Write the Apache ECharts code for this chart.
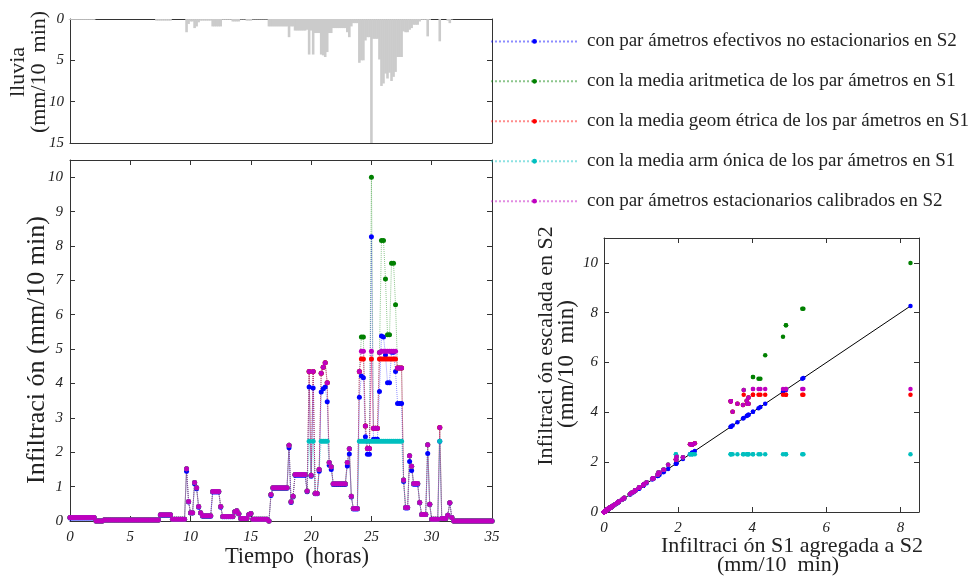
<!DOCTYPE html>
<html>
<head>
<meta charset="utf-8">
<script src="https://cdn.jsdelivr.net/npm/echarts@6/dist/echarts.min.js"></script>
<style>html,body{margin:0;padding:0;background:#fff}#c{width:977px;height:577px}</style>
</head>
<body>
<div id="c"></div>
<script>
// lluvia (mm/10 min), one value every 10 minutes from t = 0 h
const lluvia = [
 0.1,0.1,0.1,0.1,0.1,0.1,0.1,0.1,0.1,0.1,
 0.1,0.1,0.1,0,0,0,0,0,0,0,
 0,0,0,0,0,0,0,0,0,0,
 0,0,0,0,0,0,0,0,0,0,
 0,0,0,0.2,0.2,0.2,0.2,0.2,0.2,0.2,
 0.2,0,0,0,0,0,0,0,1.6,0.6,
 0.3,0.3,1.1,0.9,0.4,0.2,0.2,0.2,0.2,0.2,
 0.2,0.9,0.9,0.9,0.9,0.9,0.1,0.1,0.1,0.1,
 0.1,0.3,0.3,0.3,0.3,0.05,0.05,0.05,0.2,0.2,
 0.2,0.05,0.05,0.05,0.05,0.05,0.05,0.05,0.05,0.9,
 0.9,0.9,0.9,0.9,0.9,0.9,0.9,0.9,0.9,2.2,
 0.9,0.9,1.4,1.4,1.4,1.4,1.4,1.4,1.3,4.3,
 1.4,4.3,1.7,1.7,1.7,4.3,4.4,4.6,4.0,1.7,
 1.7,1.1,1.1,1.1,1.1,1.1,1.1,1.1,1.6,2.2,
 0.9,0.5,0.5,0.5,5.3,5.0,5.0,2.6,2.2,2.2,
 15,2.4,2.4,2.4,4.9,8.1,7.8,6.6,7.2,6.5,
 7.5,7.0,6.4,4.6,4.6,4.6,1.5,1.6,1.6,1.3,
 1.1,0.7,0.7,0.7,0.3,0.1,0.1,0.1,2.1,0.1,
 0,0,0,0,2.7,0,0,0,0.2,0.5,
 0.05,0,0,0,0,0,0,0,0,0,
 0,0,0,0,0,0,0,0,0,0,
 0
];
// infiltración con parámetros efectivos no estacionarios en S2 (= S1 agregada a S2)
const efectivosS2 = [
 0.09,0.09,0.09,0.09,0.09,0.09,0.09,0.09,0.09,0.09,
 0.09,0.09,0.09,0,0,0,0,0.03,0.03,0.03,
 0.03,0.03,0.03,0.03,0.03,0.03,0.03,0.03,0.03,0.03,
 0.03,0.03,0.03,0.03,0.03,0.03,0.03,0.03,0.03,0.03,
 0.03,0.03,0.03,0.03,0.03,0.17,0.17,0.17,0.17,0.17,
 0.17,0.05,0.05,0.05,0.05,0.05,0.05,0.05,1.45,0.55,
 0.23,0.23,1.08,0.94,0.4,0.23,0.14,0.14,0.14,0.14,
 0.14,0.84,0.84,0.84,0.84,0.4,0.12,0.12,0.12,0.12,
 0.12,0.12,0.26,0.29,0.2,0.07,0.07,0.07,0.07,0.18,
 0.22,0.05,0.05,0.05,0.05,0.05,0.05,0.05,0.05,0,
 0.74,0.95,0.95,0.95,0.95,0.95,0.95,0.95,0.95,2.13,
 0.54,0.7,1.33,1.33,1.33,1.33,1.33,1.33,0.85,3.9,
 1.3,3.87,0.79,0.79,1.45,3.75,3.85,3.9,3.47,1.62,
 1.5,1.06,1.06,1.06,1.06,1.06,1.06,1.06,1.6,1.95,
 0.7,0.35,0.35,0.35,3.6,4.22,4.17,2.45,1.94,1.94,
 8.27,2.38,2.38,2.38,3.77,5.38,5.35,4.83,4.02,4.02,
 4.91,4.91,4.35,3.42,3.42,3.42,1.15,0.38,0.38,1.73,
 1.47,1.07,1.07,1.07,0.53,0.19,0.19,0.19,1.96,0.48,
 0.05,0.05,0.05,0.05,2.32,0.07,0.07,0.07,0.17,0.52,
 0.1,0,0,0,0,0,0,0,0,0,
 0,0,0,0,0,0,0,0,0,0,
 0
];
// con la media aritmética de los parámetros en S1
const mediaAritmetica = [
 0.1,0.1,0.1,0.1,0.1,0.1,0.1,0.1,0.1,0.1,
 0.1,0.1,0.1,0,0,0,0,0.03,0.03,0.03,
 0.03,0.03,0.03,0.03,0.03,0.03,0.03,0.03,0.03,0.03,
 0.03,0.03,0.03,0.03,0.03,0.03,0.03,0.03,0.03,0.03,
 0.03,0.03,0.03,0.03,0.03,0.18,0.18,0.18,0.18,0.18,
 0.18,0.05,0.05,0.05,0.05,0.05,0.05,0.05,1.52,0.57,
 0.24,0.24,1.12,0.97,0.42,0.24,0.15,0.15,0.15,0.15,
 0.15,0.86,0.86,0.86,0.86,0.42,0.13,0.13,0.13,0.13,
 0.13,0.13,0.27,0.3,0.21,0.07,0.07,0.07,0.07,0.19,
 0.22,0.05,0.05,0.05,0.05,0.05,0.05,0.05,0.05,0,
 0.77,0.97,0.97,0.97,0.97,0.97,0.97,0.97,0.97,2.2,
 0.56,0.72,1.35,1.35,1.35,1.35,1.35,1.35,0.87,4.35,
 1.33,4.35,0.8,0.8,1.5,4.3,4.47,4.6,4.02,1.7,
 1.58,1.08,1.08,1.08,1.08,1.08,1.08,1.08,1.7,2.1,
 0.72,0.36,0.36,0.36,4.35,5.35,5.35,2.76,2.11,2.11,
 10.0,2.7,2.7,2.7,4.9,8.16,8.16,7.04,5.42,5.42,
 7.5,7.5,6.29,4.45,4.45,4.45,1.19,0.39,0.39,1.9,
 1.59,1.09,1.09,1.09,0.54,0.19,0.19,0.19,2.22,0.49,
 0.05,0.05,0.05,0.05,2.72,0.07,0.07,0.07,0.17,0.53,
 0.1,0,0,0,0,0,0,0,0,0,
 0,0,0,0,0,0,0,0,0,0,
 0
];
// con la media geométrica de los parámetros en S1
const mediaGeometrica = [
 0.1,0.1,0.1,0.1,0.1,0.1,0.1,0.1,0.1,0.1,
 0.1,0.1,0.1,0,0,0,0,0.03,0.03,0.03,
 0.03,0.03,0.03,0.03,0.03,0.03,0.03,0.03,0.03,0.03,
 0.03,0.03,0.03,0.03,0.03,0.03,0.03,0.03,0.03,0.03,
 0.03,0.03,0.03,0.03,0.03,0.18,0.18,0.18,0.18,0.18,
 0.18,0.05,0.05,0.05,0.05,0.05,0.05,0.05,1.52,0.57,
 0.24,0.24,1.12,0.97,0.42,0.24,0.15,0.15,0.15,0.15,
 0.15,0.86,0.86,0.86,0.86,0.42,0.13,0.13,0.13,0.13,
 0.13,0.13,0.27,0.3,0.21,0.07,0.07,0.07,0.07,0.19,
 0.22,0.05,0.05,0.05,0.05,0.05,0.05,0.05,0.05,0,
 0.77,0.97,0.97,0.97,0.97,0.97,0.97,0.97,0.97,2.2,
 0.56,0.72,1.35,1.35,1.35,1.35,1.35,1.35,0.87,4.35,
 1.33,4.35,0.8,0.8,1.5,4.3,4.47,4.6,4.02,1.7,
 1.58,1.08,1.08,1.08,1.08,1.08,1.08,1.08,1.7,2.1,
 0.72,0.36,0.36,0.36,4.35,4.71,4.71,2.76,2.11,2.11,
 4.71,2.7,2.7,2.7,4.71,4.71,4.71,4.71,4.71,4.71,
 4.71,4.71,4.71,4.45,4.45,4.45,1.19,0.39,0.39,1.9,
 1.59,1.09,1.09,1.09,0.54,0.19,0.19,0.19,2.22,0.49,
 0.05,0.05,0.05,0.05,2.72,0.07,0.07,0.07,0.17,0.53,
 0.1,0,0,0,0,0,0,0,0,0,
 0,0,0,0,0,0,0,0,0,0,
 0
];
// con la media armónica de los parámetros en S1
const mediaArmonica = [
 0.1,0.1,0.1,0.1,0.1,0.1,0.1,0.1,0.1,0.1,
 0.1,0.1,0.1,0,0,0,0,0.03,0.03,0.03,
 0.03,0.03,0.03,0.03,0.03,0.03,0.03,0.03,0.03,0.03,
 0.03,0.03,0.03,0.03,0.03,0.03,0.03,0.03,0.03,0.03,
 0.03,0.03,0.03,0.03,0.03,0.18,0.18,0.18,0.18,0.18,
 0.18,0.05,0.05,0.05,0.05,0.05,0.05,0.05,1.52,0.57,
 0.24,0.24,1.12,0.97,0.42,0.24,0.15,0.15,0.15,0.15,
 0.15,0.86,0.86,0.86,0.86,0.42,0.13,0.13,0.13,0.13,
 0.13,0.13,0.27,0.3,0.21,0.07,0.07,0.07,0.07,0.19,
 0.22,0.05,0.05,0.05,0.05,0.05,0.05,0.05,0.05,0,
 0.77,0.97,0.97,0.97,0.97,0.97,0.97,0.97,0.97,2.2,
 0.56,0.72,1.35,1.35,1.35,1.35,1.35,1.35,0.87,2.32,
 1.33,2.32,0.8,0.8,1.5,2.32,2.32,2.32,2.32,1.7,
 1.58,1.08,1.08,1.08,1.08,1.08,1.08,1.08,1.7,2.1,
 0.72,0.36,0.36,0.36,2.32,2.32,2.32,2.32,2.32,2.32,
 2.32,2.32,2.32,2.32,2.32,2.32,2.32,2.32,2.32,2.32,
 2.32,2.32,2.32,2.32,2.32,2.32,1.19,0.39,0.39,1.9,
 1.59,1.09,1.09,1.09,0.54,0.19,0.19,0.19,2.22,0.49,
 0.05,0.05,0.05,0.05,2.32,0.07,0.07,0.07,0.17,0.53,
 0.1,0,0,0,0,0,0,0,0,0,
 0,0,0,0,0,0,0,0,0,0,
 0
];
// con parámetros estacionarios calibrados en S2
const calibradosS2 = [
 0.1,0.1,0.1,0.1,0.1,0.1,0.1,0.1,0.1,0.1,
 0.1,0.1,0.1,0,0,0,0,0.03,0.03,0.03,
 0.03,0.03,0.03,0.03,0.03,0.03,0.03,0.03,0.03,0.03,
 0.03,0.03,0.03,0.03,0.03,0.03,0.03,0.03,0.03,0.03,
 0.03,0.03,0.03,0.03,0.03,0.18,0.18,0.18,0.18,0.18,
 0.18,0.05,0.05,0.05,0.05,0.05,0.05,0.05,1.52,0.57,
 0.24,0.24,1.12,0.97,0.42,0.24,0.15,0.15,0.15,0.15,
 0.15,0.86,0.86,0.86,0.86,0.42,0.13,0.13,0.13,0.13,
 0.13,0.13,0.27,0.3,0.21,0.07,0.07,0.07,0.07,0.19,
 0.22,0.05,0.05,0.05,0.05,0.05,0.05,0.05,0.05,0,
 0.77,0.97,0.97,0.97,0.97,0.97,0.97,0.97,0.97,2.2,
 0.56,0.72,1.35,1.35,1.35,1.35,1.35,1.35,0.87,4.35,
 1.33,4.35,0.8,0.8,1.5,4.3,4.47,4.6,4.02,1.7,
 1.58,1.08,1.08,1.08,1.08,1.08,1.08,1.08,1.7,2.1,
 0.72,0.36,0.36,0.36,4.35,4.94,4.94,2.76,2.11,2.11,
 4.94,2.7,2.7,2.7,4.9,4.94,4.94,4.94,4.94,4.94,
 4.94,4.94,4.94,4.45,4.45,4.45,1.19,0.39,0.39,1.9,
 1.59,1.09,1.09,1.09,0.54,0.19,0.19,0.19,2.22,0.49,
 0.05,0.05,0.05,0.05,2.72,0.07,0.07,0.07,0.17,0.53,
 0.1,0,0,0,0,0,0,0,0,0,
 0,0,0,0,0,0,0,0,0,0,
 0
];
const nombres = [
 'con par ámetros efectivos no estacionarios en S2',
 'con la media aritmetica de los par ámetros en S1',
 'con la media geom étrica de los par ámetros en S1',
 'con la media arm ónica de los par ámetros en S1',
 'con par ámetros estacionarios calibrados en S2'
];
const colores = ['#0000ff', '#008000', '#ff0000', '#00bfbf', '#bf00bf'];
const ticksTiempo = [0, 5, 10, 15, 20, 25, 30, 35];
const ticksLluvia = [0, 5, 10, 15];
const PASO_HORAS = 1 / 6; // 10 min

const tiempo = lluvia.map((_, i) => i * PASO_HORAS);
const series = [efectivosS2, mediaAritmetica, mediaGeometrica, mediaArmonica, calibradosS2];
const maxS1 = Math.max.apply(null, efectivosS2);

const SERIF = 'Liberation Serif';
const tickLbl = { fontFamily: SERIF, fontStyle: 'italic', fontSize: 15, color: '#222' };
const axLine = { show: true, onZero: false, lineStyle: { color: '#333', width: 1 } };
const tickStyle = { show: true, inside: true, length: 5, lineStyle: { color: '#333' } };
function mainAxis(extra) {
  return Object.assign({
    type: 'value', splitLine: { show: false }, axisLine: axLine,
    axisTick: tickStyle, axisLabel: Object.assign({}, tickLbl)
  }, extra);
}
function mirror(extra) {
  return Object.assign({
    type: 'value', splitLine: { show: false }, axisLine: axLine,
    axisTick: tickStyle, axisLabel: { show: false }
  }, extra);
}
const intFmt = v => (Math.abs(v - Math.round(v)) < 1e-9 ? String(v) : '');

const chart = echarts.init(document.getElementById('c'), null, { renderer: 'canvas' });
const seriesList = [];
seriesList.push({
  type: 'bar', xAxisIndex: 0, yAxisIndex: 0, barWidth: 2.6, silent: true,
  itemStyle: { color: '#cbcbcb' },
  data: tiempo.map((t, i) => [t, lluvia[i]])
});
series.forEach((s, k) => {
  seriesList.push({
    type: 'line', name: nombres[k], xAxisIndex: 2, yAxisIndex: 2,
    symbol: 'circle', symbolSize: 5, showSymbol: true,
    itemStyle: { color: colores[k] },
    lineStyle: { color: colores[k], width: 1, type: 'dotted', opacity: 0.45 },
    data: tiempo.map((t, i) => [t, s[i]])
  });
});
series.forEach((s, k) => {
  seriesList.push({
    type: 'scatter', name: nombres[k], xAxisIndex: 4, yAxisIndex: 4,
    symbol: 'circle', symbolSize: 4.5,
    itemStyle: { color: colores[k], opacity: 1 },
    data: efectivosS2.map((x, i) => [x, s[i]])
  });
});
seriesList.push({
  type: 'line', xAxisIndex: 4, yAxisIndex: 4, symbol: 'none', silent: true, z: 1,
  lineStyle: { color: '#000', width: 1 },
  data: [[0, 0], [maxS1, maxS1]]
});

function txt(text, x, y, size, rot) {
  return { type: 'text', x: x, y: y, rotation: rot ? Math.PI / 2 : 0,
    style: { text: text, font: size + 'px "Liberation Serif"', fill: '#222',
      textAlign: 'center', textVerticalAlign: 'middle', align: 'center', verticalAlign: 'middle' } };
}

const option = {
  animation: false,
  backgroundColor: '#fff',
  grid: [
    { left: 70, top: 19, width: 422, height: 124 },
    { left: 70, top: 160, width: 422, height: 361 },
    { left: 604, top: 238, width: 315, height: 274 }
  ],
  xAxis: [
    mirror({ gridIndex: 0, min: 0, max: 35, interval: 5, position: 'bottom', axisTick: { show: false } }),
    mirror({ gridIndex: 0, min: 0, max: 35, interval: 5, position: 'top', axisTick: { show: false } }),
    mainAxis({ gridIndex: 1, min: ticksTiempo[0], max: ticksTiempo[ticksTiempo.length - 1], interval: 5, position: 'bottom',
      axisLabel: Object.assign({}, tickLbl, { margin: 9 }) }),
    mirror({ gridIndex: 1, min: 0, max: 35, interval: 5, position: 'top' }),
    mainAxis({ gridIndex: 2, min: 0, max: 8.5, interval: 2, position: 'bottom',
      axisLabel: Object.assign({}, tickLbl, { margin: 9, formatter: intFmt, showMaxLabel: false }) }),
    mirror({ gridIndex: 2, min: 0, max: 8.5, interval: 2, position: 'top' })
  ],
  yAxis: [
    mainAxis({ gridIndex: 0, min: ticksLluvia[0], max: ticksLluvia[ticksLluvia.length - 1], interval: 5, inverse: true, position: 'left',
      axisLabel: Object.assign({}, tickLbl, { margin: 6 }) }),
    mirror({ gridIndex: 0, min: 0, max: 15, interval: 5, inverse: true, position: 'right' }),
    mainAxis({ gridIndex: 1, min: 0, max: 10.5, interval: 1, position: 'left',
      axisLabel: Object.assign({}, tickLbl, { margin: 7, formatter: intFmt }) }),
    mirror({ gridIndex: 1, min: 0, max: 10.5, interval: 1, position: 'right' }),
    mainAxis({ gridIndex: 2, min: 0, max: 11, interval: 2, position: 'left',
      axisLabel: Object.assign({}, tickLbl, { margin: 6, formatter: v => (v % 2 === 0 ? String(v) : '') }) }),
    mirror({ gridIndex: 2, min: 0, max: 11, interval: 2, position: 'right' })
  ],
  legend: {
    orient: 'vertical', left: 490, top: 31.4, padding: 0, itemWidth: 87, itemHeight: 6, itemGap: 19.95,
    data: nombres, selectedMode: false,
    textStyle: { fontFamily: SERIF, fontSize: 19, color: '#222', lineHeight: 20, padding: [0, 0, 0, 4] }
  },
  graphic: [
    txt('lluvia', 18, 72, 22, true),
    txt('(mm/10  min)', 39, 72, 22, true),
    txt('Infiltraci ón (mm/10 min)', 37, 350, 26, true),
    txt('Tiempo  (horas)', 297, 557, 22.5, false),
    txt('Infiltraci ón escalada en S2', 546, 346, 22, true),
    txt('(mm/10  min)', 567, 364, 23, true),
    txt('Infiltraci ón S1 agregada a S2', 792, 546, 22, false),
    txt('(mm/10  min)', 778, 565, 22, false)
  ],
  series: seriesList
};
chart.setOption(option);
</script>
</body>
</html>
